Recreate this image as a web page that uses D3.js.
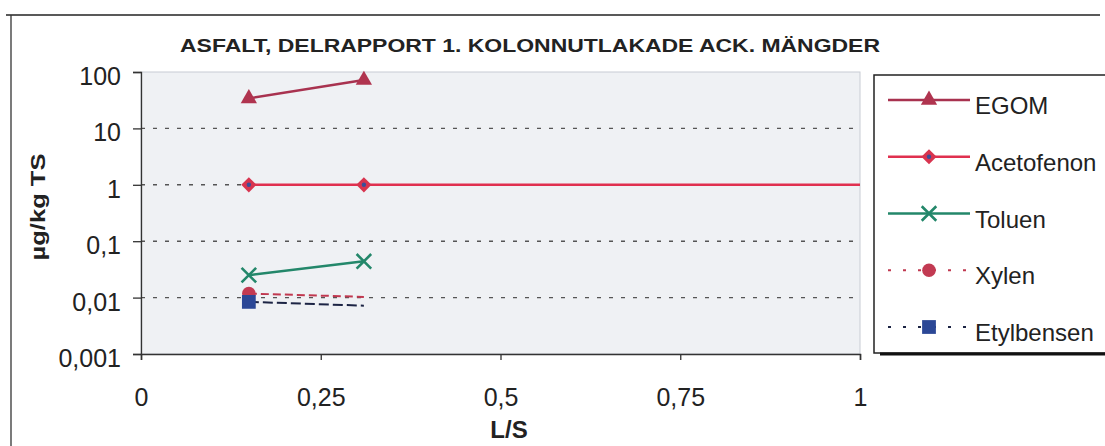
<!DOCTYPE html>
<html>
<head>
<meta charset="utf-8">
<script src="https://cdn.jsdelivr.net/npm/d3@7.9.0/dist/d3.min.js"></script>
<style>
  body { margin: 0; background: #fff; }
  svg { display: block; font-family: "Liberation Sans", Arial, sans-serif; }
</style>
</head>
<body>
<svg id="chart" width="1105" height="446"></svg>
<script>
// data
const seriesNames = ['EGOM', 'Acetofenon', 'Toluen', 'Xylen', 'Etylbensen'];
const xEGOM = [0.15, 0.31];
const yEGOM = [34, 72];
const xAceto = [0.15, 0.31, 2];
const yAceto = [1, 1, 1];
const xToluen = [0.15, 0.31];
const yToluen = [0.025, 0.044];
const xXylen = [0.15, 0.31];
const yXylen = [0.0118, 0.0103];
const xEtyl = [0.15, 0.31];
const yEtyl = [0.0084, 0.0072];
const xTicks = [0, 0.25, 0.5, 0.75, 1];
const yTicks = [0.001, 0.01, 0.1, 1, 10, 100];

const styles = {
  EGOM:       { line: '#a8324f', marker: 'triangle', fill: '#b0344f', dash: null, width: 2.5, marked: [0, 1] },
  Acetofenon: { line: '#e0304f', marker: 'diamond', fill: '#d8344f', dash: null, width: 2.5, marked: [0, 1] },
  Toluen:     { line: '#23876a', marker: 'cross', fill: '#23876a', dash: null, width: 2.5, marked: [0, 1] },
  Xylen:      { line: '#c0384f', marker: 'circle', fill: '#c23a52', dash: '8,4', width: 2, marked: [0] },
  Etylbensen: { line: '#1c2444', marker: 'square', fill: '#2b4796', dash: '10,4', width: 2, marked: [0] }
};

const data = [
  { name: 'EGOM', xs: xEGOM, ys: yEGOM },
  { name: 'Acetofenon', xs: xAceto, ys: yAceto },
  { name: 'Toluen', xs: xToluen, ys: yToluen },
  { name: 'Xylen', xs: xXylen, ys: yXylen },
  { name: 'Etylbensen', xs: xEtyl, ys: yEtyl }
];

const svg = d3.select('#chart');
const plot = { left: 141, right: 860, top: 72, bottom: 354 };

const x = d3.scaleLinear().domain([0, 1]).range([plot.left, plot.right]);
const y = d3.scaleLog().domain([0.001, 100]).range([plot.bottom, plot.top]);

// outer frame (scan edges)
svg.append('line').attr('x1', 6).attr('x2', 1100).attr('y1', 15).attr('y2', 15)
  .attr('stroke', '#222').attr('stroke-width', 1.5);
svg.append('line').attr('x1', 11).attr('x2', 11).attr('y1', 15).attr('y2', 446)
  .attr('stroke', '#333').attr('stroke-width', 1.3);

// title
svg.append('text')
  .attr('x', 530).attr('y', 52)
  .attr('text-anchor', 'middle')
  .attr('font-weight', 'bold')
  .attr('font-size', 18)
  .attr('textLength', 700)
  .attr('lengthAdjust', 'spacingAndGlyphs')
  .attr('fill', '#222')
  .text('ASFALT, DELRAPPORT 1. KOLONNUTLAKADE ACK. MÄNGDER');

// plot background
svg.append('rect')
  .attr('x', plot.left).attr('y', plot.top)
  .attr('width', plot.right - plot.left).attr('height', plot.bottom - plot.top)
  .attr('fill', '#eff1f4').attr('stroke', '#c8ccd4').attr('stroke-width', 1);

// grid lines
svg.append('g')
  .selectAll('line')
  .data(yTicks.slice(1, -1))
  .join('line')
  .attr('x1', plot.left).attr('x2', plot.right)
  .attr('y1', (d) => y(d)).attr('y2', (d) => y(d))
  .attr('stroke', '#555').attr('stroke-width', 1.4)
  .attr('stroke-dasharray', '4,8');

// axes
const yAxis = d3.axisLeft(y)
  .tickValues(yTicks)
  .tickFormat((d) => String(d).replace('.', ','))
  .tickSize(8).tickPadding(12);
const gy = svg.append('g').attr('transform', `translate(${plot.left},0)`).call(yAxis);
gy.select('.domain').attr('stroke', '#333').attr('stroke-width', 1.3);
gy.selectAll('.tick line').attr('stroke', '#333').attr('stroke-width', 1.3);
gy.selectAll('.tick text').attr('font-size', 25).attr('fill', '#222').attr('dy', '0.5em')
  .attr('font-family', '"Liberation Sans", Arial, sans-serif');

const xAxis = d3.axisBottom(x)
  .tickValues(xTicks)
  .tickFormat((d) => String(d).replace('.', ','))
  .tickSize(6).tickPadding(28);
const gx = svg.append('g').attr('transform', `translate(0,${plot.bottom})`).call(xAxis);
gx.select('.domain').attr('stroke', '#333').attr('stroke-width', 1.5);
gx.selectAll('.tick line').attr('stroke', '#333').attr('stroke-width', 1.3);
gx.selectAll('.tick text').attr('font-size', 25).attr('fill', '#222')
  .attr('font-family', '"Liberation Sans", Arial, sans-serif');

// axis titles
svg.append('text')
  .attr('transform', 'translate(45,207) rotate(-90)')
  .attr('text-anchor', 'middle')
  .attr('font-weight', 'bold').attr('font-size', 21).attr('fill', '#222')
  .attr('textLength', 107).attr('lengthAdjust', 'spacingAndGlyphs')
  .text('µg/kg TS');
svg.append('text')
  .attr('x', 509).attr('y', 438)
  .attr('text-anchor', 'middle')
  .attr('font-weight', 'bold').attr('font-size', 24).attr('fill', '#222')
  .text('L/S');

// series
svg.append('defs').append('clipPath').attr('id', 'clip')
  .append('rect')
  .attr('x', plot.left).attr('y', plot.top - 20)
  .attr('width', plot.right - plot.left).attr('height', plot.bottom - plot.top + 20);

const line = d3.line().x((d) => x(d[0])).y((d) => y(d[1]));

function drawMarker(g, kind, cx, cy, fill) {
  if (kind === 'triangle') {
    g.append('path').attr('d', d3.symbol(d3.symbolTriangle, 115)())
      .attr('transform', `translate(${cx},${cy})`).attr('fill', fill);
  } else if (kind === 'diamond') {
    g.append('path').attr('d', d3.symbol(d3.symbolSquare, 115)())
      .attr('transform', `translate(${cx},${cy}) rotate(45)`).attr('fill', fill);
    g.append('circle').attr('cx', cx).attr('cy', cy).attr('r', 2.2).attr('fill', '#3a4f9a');
  } else if (kind === 'cross') {
    g.append('path').attr('d', d3.symbol(d3.symbolX, 140)())
      .attr('transform', `translate(${cx},${cy})`)
      .attr('fill', 'none').attr('stroke', fill).attr('stroke-width', 2.6);
  } else if (kind === 'circle') {
    g.append('circle').attr('cx', cx).attr('cy', cy).attr('r', 6.8).attr('fill', fill);
  } else if (kind === 'square') {
    g.append('path').attr('d', d3.symbol(d3.symbolSquare, 190)())
      .attr('transform', `translate(${cx},${cy})`).attr('fill', fill);
  }
}

const seriesG = svg.append('g');
data.forEach((s) => {
  const st = styles[s.name];
  const pts = s.xs.map((v, i) => [v, s.ys[i]]);
  seriesG.append('path')
    .attr('d', line(pts))
    .attr('clip-path', 'url(#clip)')
    .attr('fill', 'none')
    .attr('stroke', st.line)
    .attr('stroke-width', st.width)
    .attr('stroke-dasharray', st.dash);
});
data.forEach((s) => {
  const st = styles[s.name];
  st.marked.forEach((i) => drawMarker(seriesG, st.marker, x(s.xs[i]), y(s.ys[i]), st.fill));
});

// legend
const legend = svg.append('g');
legend.append('rect')
  .attr('x', 874).attr('y', 75).attr('width', 240).attr('height', 278)
  .attr('fill', '#fff').attr('stroke', '#222').attr('stroke-width', 1.5);
legend.append('line').attr('x1', 880).attr('x2', 1105).attr('y1', 354).attr('y2', 354)
  .attr('stroke', '#111').attr('stroke-width', 3);

const legY = d3.scalePoint().domain(seriesNames).range([100, 327]);
seriesNames.forEach((name) => {
  const st = styles[name];
  const ly = legY(name);
  legend.append('line')
    .attr('x1', 888).attr('x2', 970).attr('y1', ly).attr('y2', ly)
    .attr('stroke', st.line).attr('stroke-width', st.dash ? 2 : 2.5)
    .attr('stroke-dasharray', st.dash ? '3,12' : null);
  drawMarker(legend, st.marker, 929, ly, st.fill);
  legend.append('text')
    .attr('x', 975).attr('y', ly + 14)
    .attr('font-size', 24).attr('fill', '#222')
    .text(name);
});
</script>
</body>
</html>
